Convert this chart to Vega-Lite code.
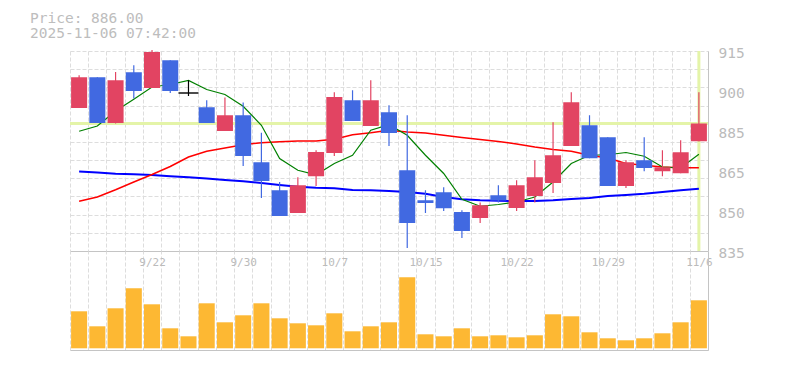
{
  "$schema": "https://vega.github.io/schema/vega-lite/v6.json",
  "background": "white",
  "padding": {"left": 30, "top": 10, "right": 5, "bottom": 5},
  "bounds": "flush",
  "spacing": 0,
  "title": {
    "text": ["Price: 886.00", "2025-11-06 07:42:00"],
    "anchor": "start",
    "frame": "group",
    "dx": -40,
    "font": "DejaVu Sans Mono",
    "fontSize": 14.5,
    "fontWeight": "normal",
    "color": "#bdbdbd",
    "lineHeight": 15,
    "offset": 4
  },
  "config": {
    "view": {"stroke": null},
    "axis": {
      "domainColor": "#c4c4c4",
      "gridColor": "#dddddd",
      "gridDash": [4, 2],
      "labelFont": "DejaVu Sans Mono",
      "labelColor": "#bbbbbb",
      "tickSize": 0,
      "labelOverlap": false
    }
  },
  "datasets": {
    "px": [
      {"d": "9/16", "o": 892.2, "h": 905.3, "l": 892.2, "c": 904.5, "v": 37000, "ma5": 882.9, "ma25": 854.9, "ma75": 866.8},
      {"d": "9/17", "o": 904.5, "h": 904.5, "l": 886.2, "c": 886.2, "v": 22000, "ma5": 885.0, "ma25": 856.6, "ma75": 866.4},
      {"d": "9/18", "o": 886.2, "h": 906.6, "l": 886.0, "c": 903.3, "v": 40000, "ma5": 891.0, "ma25": 859.5, "ma75": 865.9},
      {"d": "9/19", "o": 906.5, "h": 909.3, "l": 896.0, "c": 899.0, "v": 60000, "ma5": 895.7, "ma25": 862.6, "ma75": 865.7},
      {"d": "9/22", "o": 900.2, "h": 915.4, "l": 900.2, "c": 914.6, "v": 44000, "ma5": 900.6, "ma25": 865.6, "ma75": 865.4},
      {"d": "9/24", "o": 911.3, "h": 911.3, "l": 898.2, "c": 899.0, "v": 20000, "ma5": 901.6, "ma25": 868.8, "ma75": 864.9},
      {"d": "9/25", "o": 898.2, "h": 903.3, "l": 897.0, "c": 898.2, "v": 12000, "ma5": 903.2, "ma25": 872.6, "ma75": 864.5},
      {"d": "9/26", "o": 892.5, "h": 895.3, "l": 886.2, "c": 886.2, "v": 45000, "ma5": 899.6, "ma25": 874.9, "ma75": 864.0},
      {"d": "9/29", "o": 883.0, "h": 896.4, "l": 883.0, "c": 889.3, "v": 26000, "ma5": 897.6, "ma25": 876.2, "ma75": 863.4},
      {"d": "9/30", "o": 889.3, "h": 894.4, "l": 869.0, "c": 873.0, "v": 33000, "ma5": 892.9, "ma25": 877.5, "ma75": 862.9},
      {"d": "10/1", "o": 870.5, "h": 882.3, "l": 856.2, "c": 863.0, "v": 45000, "ma5": 885.3, "ma25": 878.3, "ma75": 862.2},
      {"d": "10/2", "o": 859.3, "h": 862.6, "l": 849.0, "c": 849.0, "v": 30000, "ma5": 872.0, "ma25": 878.7, "ma75": 861.4},
      {"d": "10/3", "o": 850.2, "h": 864.5, "l": 850.2, "c": 861.3, "v": 25000, "ma5": 867.3, "ma25": 879.0, "ma75": 860.7},
      {"d": "10/6", "o": 864.9, "h": 875.3, "l": 861.0, "c": 874.6, "v": 23000, "ma5": 865.5, "ma25": 879.0, "ma75": 860.3},
      {"d": "10/7", "o": 874.2, "h": 898.5, "l": 873.0, "c": 896.6, "v": 35000, "ma5": 870.0, "ma25": 879.7, "ma75": 860.1},
      {"d": "10/8", "o": 895.3, "h": 899.3, "l": 887.0, "c": 887.0, "v": 17000, "ma5": 873.3, "ma25": 881.5, "ma75": 859.4},
      {"d": "10/9", "o": 885.0, "h": 903.3, "l": 885.0, "c": 895.3, "v": 22000, "ma5": 883.3, "ma25": 882.3, "ma75": 859.3},
      {"d": "10/10", "o": 890.5, "h": 893.3, "l": 877.0, "c": 882.2, "v": 26000, "ma5": 885.5, "ma25": 883.3, "ma75": 859.0},
      {"d": "10/14", "o": 867.3, "h": 889.3, "l": 836.2, "c": 846.2, "v": 71000, "ma5": 881.3, "ma25": 882.6, "ma75": 858.6},
      {"d": "10/15", "o": 855.3, "h": 859.3, "l": 850.2, "c": 854.2, "v": 14000, "ma5": 873.3, "ma25": 882.2, "ma75": 857.9},
      {"d": "10/16", "o": 858.5, "h": 860.5, "l": 851.0, "c": 852.1, "v": 12000, "ma5": 866.0, "ma25": 881.3, "ma75": 856.6},
      {"d": "10/17", "o": 850.6, "h": 851.3, "l": 840.2, "c": 843.0, "v": 20000, "ma5": 855.7, "ma25": 880.4, "ma75": 855.7},
      {"d": "10/20", "o": 848.2, "h": 854.4, "l": 846.2, "c": 853.3, "v": 12000, "ma5": 852.9, "ma25": 879.6, "ma75": 855.3},
      {"d": "10/21", "o": 857.3, "h": 861.3, "l": 854.4, "c": 855.2, "v": 13000, "ma5": 853.6, "ma25": 878.8, "ma75": 855.1},
      {"d": "10/22", "o": 852.2, "h": 863.3, "l": 851.0, "c": 861.3, "v": 11000, "ma5": 854.6, "ma25": 877.8, "ma75": 855.0},
      {"d": "10/23", "o": 857.0, "h": 871.3, "l": 854.4, "c": 864.5, "v": 13000, "ma5": 856.6, "ma25": 876.6, "ma75": 855.0},
      {"d": "10/24", "o": 862.2, "h": 886.5, "l": 858.2, "c": 873.3, "v": 34000, "ma5": 862.6, "ma25": 875.6, "ma75": 855.3},
      {"d": "10/27", "o": 877.0, "h": 898.5, "l": 877.0, "c": 894.5, "v": 32000, "ma5": 870.0, "ma25": 874.9, "ma75": 855.8},
      {"d": "10/28", "o": 885.3, "h": 889.3, "l": 872.1, "c": 872.1, "v": 16000, "ma5": 873.3, "ma25": 873.3, "ma75": 856.2},
      {"d": "10/29", "o": 880.5, "h": 880.5, "l": 861.0, "c": 861.0, "v": 10000, "ma5": 873.5, "ma25": 872.2, "ma75": 857.0},
      {"d": "10/30", "o": 861.0, "h": 871.3, "l": 860.2, "c": 870.5, "v": 8000, "ma5": 874.4, "ma25": 870.0, "ma75": 857.4},
      {"d": "10/31", "o": 871.3, "h": 880.5, "l": 866.9, "c": 868.2, "v": 10000, "ma5": 872.9, "ma25": 869.3, "ma75": 857.9},
      {"d": "11/4", "o": 866.9, "h": 875.3, "l": 864.9, "c": 868.5, "v": 15000, "ma5": 868.6, "ma25": 868.6, "ma75": 858.6},
      {"d": "11/5", "o": 866.1, "h": 879.3, "l": 866.1, "c": 874.5, "v": 26000, "ma5": 868.2, "ma25": 868.3, "ma75": 859.3},
      {"d": "11/6", "o": 878.9, "h": 898.5, "l": 878.9, "c": 886.0, "v": 48000, "ma5": 873.7, "ma25": 868.3, "ma75": 859.9}
    ]
  },
  "vconcat": [
    {
      "width": 638,
      "height": 200,
      "data": {"name": "px"},
      "resolve": {"axis": {"y": "independent"}},
      "layer": [
        {
          "transform": [{"filter": "datum.d == '11/6'"}],
          "mark": {"type": "rule", "color": "#e4f4a8", "strokeWidth": 3},
          "encoding": {
            "y": {
              "field": "c", "type": "quantitative",
              "scale": {"domain": [835, 915], "nice": false, "zero": false},
              "axis": {
                "orient": "left", "title": null, "ticks": false, "tickSize": 0,
                "labels": false, "domain": false, "grid": true,
                "values": [842.2727, 849.5455, 856.8182, 864.0909, 871.3636, 878.6364, 885.9091, 893.1818, 900.4545, 907.7273, 915]
              }
            }
          }
        },
        {
          "mark": {"type": "rule", "color": "#e4f4a8", "strokeWidth": 3},
          "encoding": {
            "x": {
              "field": "d", "type": "ordinal", "sort": null,
              "scale": {"paddingInner": 0, "paddingOuter": 0},
              "axis": {
                "orient": "bottom", "title": null, "labels": false, "ticks": false,
                "tickSize": 0, "domain": true, "grid": true, "tickBand": "extent"
              }
            },
            "opacity": {"condition": {"test": "datum.d == '11/6'", "value": 1}, "value": 0}
          }
        },
        {
          "mark": {"type": "line", "color": "#0000ff", "strokeWidth": 2},
          "encoding": {
            "x": {"field": "d", "type": "ordinal", "sort": null},
            "y": {
              "field": "ma75", "type": "quantitative",
              "axis": {
                "orient": "right", "title": null, "ticks": false, "tickSize": 0,
                "domain": true, "grid": false,
                "values": [835, 851, 867, 883, 899, 915],
                "labelExpr": "'' + (round(datum.value / 5) * 5)",
                "labelFontSize": 14.5, "labelPadding": 10, "labelBaseline": "middle",
                "labelOffset": 2, "labelFlush": false, "labelOverlap": false, "labelBound": false
              }
            }
          }
        },
        {
          "mark": {"type": "line", "color": "#ff0000", "strokeWidth": 1.5},
          "encoding": {
            "x": {"field": "d", "type": "ordinal", "sort": null},
            "y": {"field": "ma25", "type": "quantitative", "axis": null}
          }
        },
        {
          "mark": {"type": "line", "color": "#008000", "strokeWidth": 1.2},
          "encoding": {
            "x": {"field": "d", "type": "ordinal", "sort": null},
            "y": {"field": "ma5", "type": "quantitative", "axis": null}
          }
        },
        {
          "mark": {"type": "rule", "strokeWidth": 1.2},
          "encoding": {
            "x": {"field": "d", "type": "ordinal", "sort": null},
            "y": {"field": "l", "type": "quantitative", "axis": null},
            "y2": {"field": "h"},
            "color": {"condition": [{"test": "datum.c == datum.o", "value": "#000000"}, {"test": "datum.c > datum.o", "value": "#e24462"}], "value": "#4169e1"}
          }
        },
        {
          "mark": {"type": "bar", "width": {"band": 0.88}},
          "encoding": {
            "x": {"field": "d", "type": "ordinal", "sort": null},
            "y": {"field": "o", "type": "quantitative", "axis": null},
            "y2": {"field": "c"},
            "color": {"condition": {"test": "datum.c > datum.o", "value": "#e24462"}, "value": "#4169e1"}
          }
        },
        {
          "transform": [{"filter": "datum.c == datum.o"}],
          "mark": {"type": "tick", "color": "#000000", "thickness": 2, "size": 20},
          "encoding": {
            "x": {"field": "d", "type": "ordinal", "sort": null},
            "y": {"field": "c", "type": "quantitative", "axis": null}
          }
        }
      ]
    },
    {
      "width": 638,
      "height": 99,
      "data": {"name": "px"},
      "mark": {"type": "bar", "color": "#fdb833", "width": {"band": 0.88}},
      "encoding": {
        "x": {
          "field": "d", "type": "ordinal", "sort": null,
          "scale": {"paddingInner": 0, "paddingOuter": 0},
          "axis": {
            "orient": "top", "title": null, "domain": false, "ticks": false, "tickSize": 0,
            "grid": true, "tickBand": "extent",
            "labelExpr": "indexof(['9/22','9/30','10/7','10/15','10/22','10/29','11/6'], datum.value) >= 0 ? datum.value : ''",
            "labelPadding": -11.5, "labelBaseline": "middle", "labelFontSize": 11,
            "labelAngle": 0, "labelOverlap": false, "labelBound": false, "labelFlush": false
          }
        },
        "y": {
          "field": "v", "type": "quantitative",
          "scale": {"domain": [-1700, 97300], "nice": false, "zero": false},
          "axis": {
            "orient": "right", "title": null, "labels": false, "ticks": false, "tickSize": 0,
            "domain": true, "grid": true, "values": [-1700], "gridDash": [], "gridColor": "#c4c4c4"
          }
        },
        "y2": {"datum": 0}
      }
    }
  ]
}
